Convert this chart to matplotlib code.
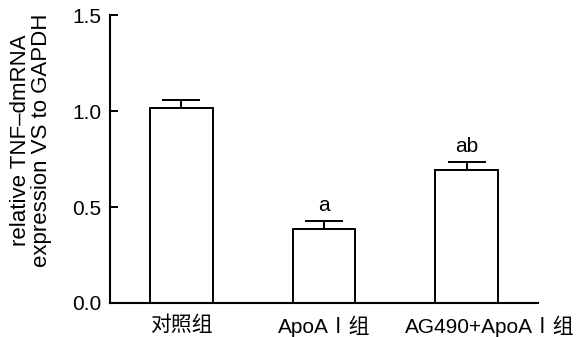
import matplotlib
matplotlib.use("Agg")
import matplotlib.pyplot as plt
from matplotlib.transforms import ScaledTranslation

categories = ["对照组", "ApoAⅠ组", "AG490+ApoAⅠ组"]
values = [1.016, 0.385, 0.693]
errors = [0.042, 0.042, 0.042]
marks = ["", "a", "ab"]
yticks = [0.0, 0.5, 1.0, 1.5]

fam = ["Liberation Sans", "Noto Sans CJK SC", "DejaVu Sans"]
plt.rcParams["font.family"] = fam

fig = plt.figure(figsize=(5.78, 3.37), dpi=100)
ax = fig.add_axes([0.19, 0.101, 0.741, 0.854])

x = list(range(len(categories)))
ax.bar(x, values, width=0.44, color="white", edgecolor="black", linewidth=1.4, zorder=2)
ax.errorbar(x, values, yerr=[[0]*len(values), errors], fmt="none", ecolor="black",
            elinewidth=1.4, capsize=14, capthick=1.4, zorder=1)
for xi, v, e, m in zip(x, values, errors, marks):
    if m:
        ax.text(xi, v + e + 0.03, m, ha="center", va="bottom", fontsize=15)

ax.set_xlim(-0.5, 2.5)
ax.set_ylim(0, 1.5)
ax.set_yticks(yticks)
ax.set_yticklabels([f"{t:.1f}" for t in yticks])
ax.set_xticks(x)
labels = ax.set_xticklabels(categories)
ax.spines["top"].set_visible(False)
ax.spines["right"].set_visible(False)
for s in ["left", "bottom"]:
    ax.spines[s].set_linewidth(1.5)
ax.tick_params(axis="both", direction="in", length=6, width=1.4, labelsize=15)
ax.tick_params(axis="x", pad=9)
ax.tick_params(axis="y", pad=6)
# nudge last label right as in the reference
labels[-1].set_transform(labels[-1].get_transform() + ScaledTranslation(0.23, 0, fig.dpi_scale_trans))
ax.set_ylabel("relative TNF–dmRNA\nexpression VS to GAPDH", fontsize=16, linespacing=1.0)
ax.yaxis.set_label_coords(-0.135, 0.565)

fig.savefig("out.png", dpi=100)
